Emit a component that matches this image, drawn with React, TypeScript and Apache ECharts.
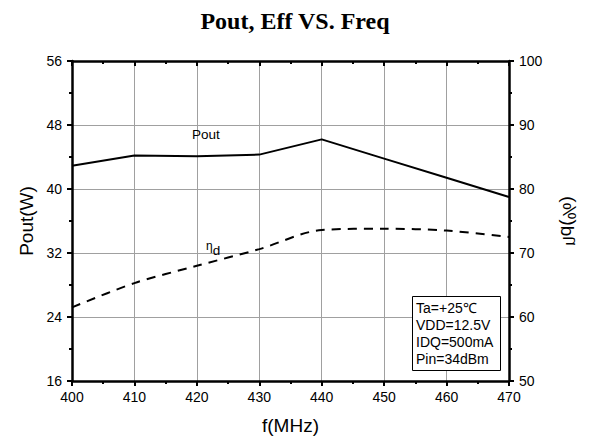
import React, { useEffect, useRef } from "react";
import * as echarts from "echarts";

const freq = [400, 410, 420, 430, 440, 450, 460, 470];
const pout = [42.9, 44.2, 44.1, 44.3, 46.2, 43.8, 41.4, 39.0];
const eff = [61.5, 65.3, 68.0, 70.6, 73.6, 73.8, 73.5, 72.5];
const conditions = ["Ta=+25℃", "VDD=12.5V", "IDQ=500mA", "Pin=34dBm"];

const SANS = "Liberation Sans, Arial, sans-serif";

export default function App() {
  const ref = useRef<HTMLDivElement>(null);
  useEffect(() => {
    if (!ref.current) return;
    const chart = echarts.init(ref.current, null, { renderer: "svg" });
    const axisLine = { show: true, onZero: false, lineStyle: { color: "#000", width: 2.5 } };
    const tickStyle = { color: "#000", width: 2 };
    const split = { show: true, showMinLine: false, showMaxLine: false, lineStyle: { color: "#a0a0a0", width: 1 } };
    const labelStyle = { fontFamily: SANS, fontSize: 14, color: "#000" };
    const grid = { left: 72, right: 81, top: 61, bottom: 64 };
    chart.setOption({
      animation: false,
      backgroundColor: "#fff",
      title: {
        text: "Pout, Eff VS. Freq",
        left: "center",
        top: 4,
        textStyle: { fontFamily: "Liberation Serif, Times New Roman, serif", fontWeight: "bold", fontSize: 24, color: "#000" },
      },
      grid: { ...grid, containLabel: false },
      xAxis: [
        {
          type: "value",
          min: 400,
          max: 470,
          interval: 10,
          position: "bottom",
          name: "f(MHz)",
          nameLocation: "middle",
          nameGap: 35,
          nameTextStyle: { fontFamily: SANS, fontSize: 19, color: "#000" },
          axisLine,
          axisTick: { show: true, inside: false, length: 5, lineStyle: tickStyle },
          minorTick: { show: true, splitNumber: 2, length: 3, lineStyle: tickStyle },
          axisLabel: { ...labelStyle, margin: 9 },
          splitLine: split,
          z: 3,
        },
        {
          type: "value",
          min: 400,
          max: 470,
          interval: 10,
          position: "top",
          axisLine,
          axisTick: { show: true, inside: true, length: 5, lineStyle: tickStyle },
          minorTick: { show: true, splitNumber: 2, length: 3, lineStyle: tickStyle },
          axisLabel: { show: false },
          splitLine: { show: false },
          z: 3,
        },
      ],
      yAxis: [
        {
          type: "value",
          min: 16,
          max: 56,
          interval: 8,
          position: "left",
          name: "Pout(W)",
          nameLocation: "middle",
          nameGap: 36,
          nameTextStyle: { fontFamily: SANS, fontSize: 19, color: "#000" },
          axisLine,
          axisTick: { show: true, inside: false, length: 5, lineStyle: tickStyle },
          minorTick: { show: true, splitNumber: 2, length: 3, lineStyle: tickStyle },
          axisLabel: { ...labelStyle, margin: 10 },
          splitLine: split,
          z: 3,
        },
        {
          type: "value",
          min: 50,
          max: 100,
          interval: 10,
          position: "right",
          axisLine,
          axisTick: { show: true, inside: false, length: 5, lineStyle: tickStyle },
          minorTick: { show: true, splitNumber: 2, length: 3, lineStyle: tickStyle },
          axisLabel: { ...labelStyle, margin: 10 },
          splitLine: { show: false },
          z: 3,
        },
      ],
      series: [
        {
          name: "Pout",
          type: "line",
          xAxisIndex: 0,
          yAxisIndex: 0,
          data: freq.map((f, i) => [f, pout[i]]),
          showSymbol: false,
          lineStyle: { color: "#000", width: 2 },
          z: 5,
        },
        {
          name: "Eff",
          type: "line",
          xAxisIndex: 0,
          yAxisIndex: 1,
          smooth: 0.3,
          data: freq.map((f, i) => [f, eff[i]]),
          showSymbol: false,
          lineStyle: { color: "#000", width: 2, type: [9, 7] },
          z: 5,
        },
      ],
      graphic: [
        {
          type: "text",
          x: 569,
          y: 221,
          rotation: -Math.PI / 2,
          scaleX: -1,
          style: {
            text: "{e|η}{s|d}{n|(%)}",
            fontFamily: SANS,
            fontSize: 19,
            fill: "#000",
            align: "center",
            verticalAlign: "middle",
            rich: {
              e: { fontFamily: SANS, fontSize: 17, fill: "#000", verticalAlign: "top", lineHeight: 22 },
              s: { fontFamily: SANS, fontSize: 19, fill: "#000", verticalAlign: "bottom", lineHeight: 22, padding: [6, 0, 0, 0] },
              n: { fontFamily: SANS, fontSize: 19, fill: "#000", lineHeight: 22 },
            },
          },
          z: 10,
        },
        {
          type: "text",
          left: 192,
          top: 127,
          style: { text: "Pout", fontFamily: SANS, fontSize: 13.5, fill: "#000" },
          z: 10,
        },
        {
          type: "text",
          left: 206,
          top: 239,
          style: {
            text: "{e|η}{s|d}",
            fontFamily: SANS,
            fontSize: 13,
            fill: "#000",
            rich: {
              e: { fontFamily: SANS, fontSize: 12, fill: "#000", verticalAlign: "top", lineHeight: 17 },
              s: { fontFamily: SANS, fontSize: 13.5, fill: "#000", verticalAlign: "bottom", lineHeight: 17, padding: [4, 0, 0, 0] },
            },
          },
          z: 10,
        },
        {
          type: "rect",
          left: 412,
          top: 296,
          shape: { width: 88, height: 74 },
          style: { fill: "#fff", stroke: "#000", lineWidth: 1 },
          z: 10,
        },
        {
          type: "text",
          left: 416,
          top: 299,
          style: {
            text: conditions.join("\n"),
            fontFamily: SANS,
            fontSize: 14,
            lineHeight: 17,
            fill: "#000",
          },
          z: 11,
        },
      ],
    });
    return () => chart.dispose();
  }, []);
  return (
    <div
      ref={ref}
      style={{ position: "fixed", left: 0, top: 0, width: 590, height: 445, background: "#fff" }}
    />
  );
}
